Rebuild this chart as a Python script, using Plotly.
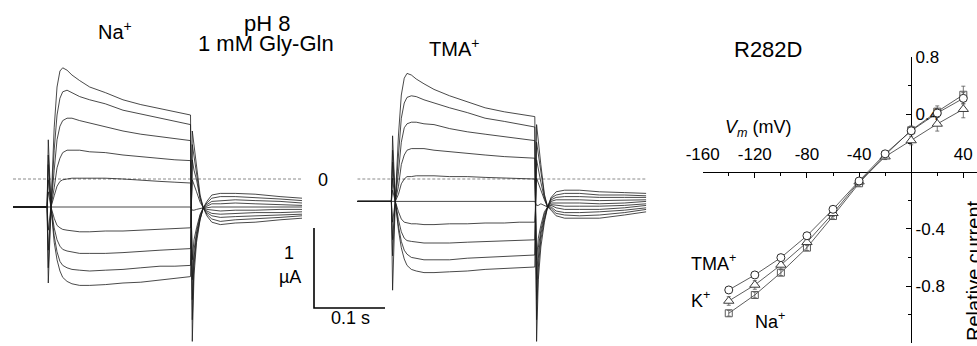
import plotly.graph_objects as go

# ---------------- data: voltage-clamp current traces (time in s, current in uA) ----------------
T = [0.0, 0.048, 0.0497, 0.0535, 0.058, 0.062, 0.0661, 0.070, 0.0761, 0.083, 0.0939, 0.108,
     0.130, 0.1549, 0.180, 0.207, 0.228, 0.250, 0.2525, 0.2549, 0.2585, 0.2635, 0.268, 0.273,
     0.280, 0.292, 0.313, 0.341, 0.3761, 0.407]

NA_0 = [-0.35,-0.35,0.49,-0.35,0.64,1.15,1.35,1.39,1.36,1.30,1.23,1.15,1.08,0.99,0.93,0.88,0.84,0.80,-2.03,-1.20,-0.79,-0.51,-0.36,-0.28,-0.20,-0.18,-0.18,-0.19,-0.22,-0.24]
NA_1 = [-0.35,-0.35,0.30,-0.35,0.36,0.80,1.01,1.09,1.11,1.08,1.03,0.99,0.94,0.86,0.81,0.76,0.72,0.68,-1.76,-1.08,-0.74,-0.50,-0.36,-0.30,-0.24,-0.22,-0.22,-0.23,-0.25,-0.27]
NA_2 = [-0.35,-0.35,0.18,-0.35,0.11,0.49,0.66,0.73,0.76,0.76,0.73,0.70,0.65,0.60,0.56,0.53,0.51,0.48,-1.51,-0.99,-0.70,-0.49,-0.36,-0.32,-0.28,-0.27,-0.26,-0.27,-0.28,-0.30]
NA_3 = [-0.35,-0.35,-0.01,-0.35,-0.11,0.14,0.26,0.33,0.36,0.36,0.36,0.34,0.33,0.30,0.28,0.25,0.24,0.23,-1.26,-0.89,-0.66,-0.46,-0.36,-0.34,-0.31,-0.31,-0.30,-0.31,-0.32,-0.33]
NA_4 = [-0.35,-0.35,-0.16,-0.35,-0.21,-0.09,-0.03,-0.01,0.00,0.01,0.01,0.01,0.01,0.00,-0.01,-0.03,-0.04,-0.05,-1.01,-0.76,-0.61,-0.44,-0.36,-0.36,-0.35,-0.35,-0.35,-0.35,-0.35,-0.35]
NA_5 = [-0.35,-0.35,-0.35,-0.35,-0.35,-0.35,-0.35,-0.35,-0.35,-0.35,-0.35,-0.35,-0.35,-0.35,-0.35,-0.35,-0.35,-0.35,-0.39,-0.39,-0.38,-0.37,-0.36,-0.38,-0.39,-0.40,-0.39,-0.39,-0.38,-0.38]
NA_6 = [-0.35,-0.35,-0.64,-0.35,-0.49,-0.58,-0.61,-0.63,-0.64,-0.65,-0.66,-0.66,-0.65,-0.65,-0.64,-0.63,-0.62,-0.61,-0.01,-0.08,-0.16,-0.29,-0.36,-0.40,-0.43,-0.44,-0.43,-0.42,-0.42,-0.41]
NA_7 = [-0.35,-0.35,-0.89,-0.35,-0.61,-0.76,-0.84,-0.88,-0.90,-0.91,-0.93,-0.93,-0.93,-0.92,-0.91,-0.89,-0.88,-0.87,0.24,0.11,-0.01,-0.25,-0.36,-0.42,-0.46,-0.48,-0.47,-0.46,-0.45,-0.44]
NA_8 = [-0.35,-0.35,-1.11,-0.35,-0.71,-0.91,-1.03,-1.08,-1.11,-1.13,-1.14,-1.15,-1.14,-1.13,-1.11,-1.09,-1.09,-1.08,0.43,0.28,0.09,-0.23,-0.36,-0.44,-0.50,-0.53,-0.51,-0.50,-0.48,-0.46]
NA_9 = [-0.35,-0.35,-1.30,-0.35,-0.79,-1.01,-1.15,-1.23,-1.28,-1.31,-1.33,-1.33,-1.32,-1.30,-1.29,-1.26,-1.24,-1.22,0.60,0.43,0.18,-0.20,-0.36,-0.46,-0.54,-0.57,-0.55,-0.54,-0.51,-0.49]

TMA_0 = [-0.28,-0.28,0.54,-0.28,0.55,1.05,1.26,1.32,1.30,1.25,1.19,1.12,1.04,0.97,0.89,0.84,0.81,0.78,-2.03,-1.26,-0.85,-0.54,-0.35,-0.23,-0.16,-0.14,-0.14,-0.16,-0.17,-0.18]
TMA_1 = [-0.28,-0.28,0.36,-0.28,0.30,0.76,0.95,1.02,1.04,1.03,0.99,0.95,0.89,0.83,0.76,0.72,0.69,0.65,-1.76,-1.11,-0.76,-0.51,-0.35,-0.24,-0.20,-0.18,-0.18,-0.20,-0.20,-0.21]
TMA_2 = [-0.28,-0.28,0.21,-0.28,0.09,0.46,0.64,0.69,0.71,0.71,0.69,0.68,0.63,0.59,0.56,0.53,0.50,0.48,-1.51,-0.99,-0.69,-0.48,-0.35,-0.26,-0.23,-0.22,-0.22,-0.23,-0.23,-0.23]
TMA_3 = [-0.28,-0.28,0.01,-0.28,-0.09,0.18,0.30,0.36,0.38,0.38,0.38,0.36,0.34,0.32,0.30,0.28,0.27,0.26,-1.26,-0.86,-0.64,-0.44,-0.35,-0.28,-0.26,-0.26,-0.26,-0.27,-0.26,-0.26]
TMA_4 = [-0.28,-0.28,-0.14,-0.28,-0.19,-0.06,0.00,0.03,0.03,0.04,0.04,0.04,0.03,0.03,0.02,0.01,0.00,0.00,-1.01,-0.74,-0.58,-0.41,-0.35,-0.30,-0.30,-0.30,-0.30,-0.31,-0.30,-0.28]
TMA_5 = [-0.28,-0.28,-0.28,-0.28,-0.28,-0.28,-0.28,-0.28,-0.28,-0.28,-0.28,-0.28,-0.28,-0.28,-0.28,-0.28,-0.28,-0.28,-0.33,-0.33,-0.31,-0.33,-0.35,-0.32,-0.33,-0.34,-0.34,-0.34,-0.33,-0.31]
TMA_6 = [-0.28,-0.28,-0.54,-0.28,-0.41,-0.50,-0.54,-0.55,-0.56,-0.56,-0.57,-0.57,-0.56,-0.56,-0.55,-0.55,-0.54,-0.54,0.01,-0.05,-0.14,-0.26,-0.35,-0.33,-0.36,-0.38,-0.38,-0.38,-0.36,-0.33]
TMA_7 = [-0.28,-0.28,-0.76,-0.28,-0.51,-0.66,-0.74,-0.77,-0.78,-0.79,-0.80,-0.80,-0.80,-0.79,-0.78,-0.77,-0.76,-0.76,0.24,0.11,-0.04,-0.24,-0.35,-0.35,-0.40,-0.42,-0.42,-0.41,-0.39,-0.36]
TMA_8 = [-0.28,-0.28,-0.96,-0.28,-0.59,-0.78,-0.89,-0.94,-0.98,-0.99,-1.01,-1.01,-1.01,-0.99,-0.98,-0.97,-0.96,-0.95,0.46,0.30,0.09,-0.21,-0.35,-0.37,-0.43,-0.45,-0.46,-0.45,-0.42,-0.38]
TMA_9 = [-0.28,-0.28,-1.39,-0.28,-0.64,-0.86,-1.00,-1.08,-1.13,-1.15,-1.17,-1.17,-1.16,-1.15,-1.13,-1.12,-1.11,-1.10,0.68,0.46,0.18,-0.19,-0.35,-0.39,-0.46,-0.49,-0.49,-0.49,-0.45,-0.41]

NA_TRACES = [NA_0, NA_1, NA_2, NA_3, NA_4, NA_5, NA_6, NA_7, NA_8, NA_9]
TMA_TRACES = [TMA_0, TMA_1, TMA_2, TMA_3, TMA_4, TMA_5, TMA_6, TMA_7, TMA_8, TMA_9]

SCALE_I = 1.0   # uA
SCALE_T = 0.1   # s

# ---------------- data: I-V relation (R282D) ----------------
V_MV = [-140, -120, -100, -80, -60, -40, -20, 0, 20, 40]
I_TMA = [-0.827, -0.722, -0.601, -0.448, -0.263, -0.065, 0.125, 0.286, 0.41, 0.513]
E_TMA = [0.02, 0.02, 0.02, 0.02, 0.02, 0.02, 0.02, 0.02, 0.03, 0.04]
I_K = [-0.904, -0.792, -0.652, -0.494, -0.291, -0.070, 0.105, 0.218, 0.334, 0.437]
E_K = [0.03, 0.03, 0.03, 0.02, 0.02, 0.02, 0.02, 0.03, 0.05, 0.06]
I_NA = [-0.99, -0.862, -0.706, -0.531, -0.31, -0.081, 0.117, 0.29, 0.42, 0.538]
E_NA = [0.02, 0.02, 0.02, 0.02, 0.02, 0.02, 0.02, 0.03, 0.04, 0.06]

X_TICKS = [-160, -120, -80, -40, 40]
X_MINOR = [-140, -100, -60, -20, 0, 20]
Y_TICKS = [0.8, 0.4, -0.4, -0.8, -1.2]
Y_MINOR = [0.6, 0.2, -0.2, -0.6, -1.0]

# ---------------- layout helpers (pixel -> paper) ----------------
W, H = 977, 346
PX_PER_S = 710.0
PX_PER_UA = 80.0
ZERO_PY = 179.0


def fx(p):
    return p / W


def fy(p):
    return 1 - p / H


FONT = "Liberation Sans, Arial, Helvetica, sans-serif"
TRACE_LINE = dict(color="#1c1c1c", width=0.8)

fig = go.Figure()

for xa, traces in (("x", NA_TRACES), ("x2", TMA_TRACES)):
    fig.add_trace(go.Scatter(x=[T[0], T[-1]], y=[0, 0], xaxis=xa, yaxis="y", mode="lines",
                             line=dict(color="#8a8a8a", width=1, dash="3px,2px"),
                             hoverinfo="skip", showlegend=False))
    for tr in traces:
        fig.add_trace(go.Scatter(x=T, y=tr, xaxis=xa, yaxis="y", mode="lines",
                                 line=TRACE_LINE, hoverinfo="skip", showlegend=False))

# scale bar (1 uA, 0.1 s)
sb_x0 = 314 / PX_PER_S
sb_y0 = (ZERO_PY - 308) / PX_PER_UA
fig.add_trace(go.Scatter(x=[sb_x0, sb_x0, sb_x0 + SCALE_T],
                         y=[sb_y0 + SCALE_I, sb_y0, sb_y0],
                         xaxis="x3", yaxis="y", mode="lines",
                         line=dict(color="black", width=1.6), hoverinfo="skip", showlegend=False))

# I-V curves
series = [
    (I_NA, E_NA, "square-open", "#5a5a5a", 7),
    (I_K, E_K, "triangle-up", "#3a3a3a", 9),
    (I_TMA, E_TMA, "circle", "#2a2a2a", 8),
]
for yv, ev, sym, col, size in series:
    fig.add_trace(go.Scatter(
        x=V_MV, y=yv, xaxis="x4", yaxis="y2", mode="lines+markers",
        line=dict(color="#333333", width=0.8),
        marker=dict(symbol=sym, size=size, color="white" if not sym.endswith("open") else col,
                    line=dict(color=col, width=1)),
        error_y=dict(type="data", array=ev, visible=True, color="#555555", thickness=0.8, width=2),
        hoverinfo="skip", showlegend=False))

ann = []


def add_text(text, x, y, size, **kw):
    d = dict(text=text, x=fx(x), y=fy(y), xref="paper", yref="paper", showarrow=False,
             xanchor="center", yanchor="middle", font=dict(size=size, family=FONT, color="black"))
    d.update(kw)
    ann.append(d)


add_text("Na<sup>+</sup>", 115, 30, 20)
add_text("pH 8", 267, 24, 22)
add_text("1 mM Gly-Gln", 266, 43, 22)
add_text("TMA<sup>+</sup>", 454, 48, 20)
add_text("0", 323, 180, 18)
add_text("1", 289, 253, 18)
add_text("µA", 290, 277, 18)
add_text("0.1 s", 350, 318, 18)
add_text("R282D", 768, 50, 22)
add_text("<i>V</i><sub><i>m</i></sub> (mV)", 758, 129, 18)
add_text("TMA<sup>+</sup>", 713, 262, 18)
add_text("K<sup>+</sup>", 700, 299, 18)
add_text("Na<sup>+</sup>", 770, 320, 18)
add_text("Relative current", 974, 271, 20, textangle=-90)

fig.update_layout(
    width=W, height=H,
    margin=dict(l=0, r=0, t=0, b=0, pad=0, autoexpand=False),
    paper_bgcolor="white", plot_bgcolor="rgba(0,0,0,0)",
    font=dict(family=FONT, color="black"),
    showlegend=False,
    annotations=ann,
    xaxis=dict(domain=[fx(13), fx(302)], range=[0, 0.407], visible=False, anchor="y", automargin=False),
    xaxis2=dict(domain=[fx(357.3), fx(646.3)], range=[0, 0.407], visible=False, anchor="y", automargin=False),
    xaxis3=dict(domain=[0, 1], range=[0, W / PX_PER_S], visible=False, anchor="y", automargin=False),
    yaxis=dict(domain=[0, 1], range=[(ZERO_PY - H) / PX_PER_UA, ZERO_PY / PX_PER_UA],
               visible=False, anchor="x", automargin=False),
    xaxis4=dict(domain=[fx(702.7), 1], range=[-160, 50.5], anchor="free", position=fy(171.7),
                side="top", showline=True, linecolor="black", linewidth=1, automargin=False,
                ticks="inside", ticklen=5, tickcolor="black", tickwidth=1,
                tickmode="array", tickvals=X_TICKS, ticktext=[str(v) for v in X_TICKS],
                minor=dict(tickvals=X_MINOR, ticks="inside", ticklen=3, tickcolor="black", tickwidth=1),
                showgrid=False, zeroline=False, tickfont=dict(size=17, family=FONT),
                ticklabelstandoff=5, layer="below traces", fixedrange=True),
    yaxis2=dict(domain=[fy(343.3), fy(57.3)], range=[-1.2, 0.8], anchor="free", position=fx(911.2),
                side="right", showline=True, linecolor="black", linewidth=1, automargin=False,
                ticks="inside", ticklen=5, tickcolor="black", tickwidth=1,
                tickmode="array", tickvals=Y_TICKS, ticktext=[("%.1f" % v) for v in Y_TICKS],
                minor=dict(tickvals=Y_MINOR, ticks="inside", ticklen=3, tickcolor="black", tickwidth=1),
                showgrid=False, zeroline=False, tickfont=dict(size=17, family=FONT),
                layer="below traces", fixedrange=True),
)

fig.write_html("out.html", config={"displayModeBar": False, "staticPlot": True},
               post_script="document.body.style.margin='0';document.body.style.overflow='hidden';")
